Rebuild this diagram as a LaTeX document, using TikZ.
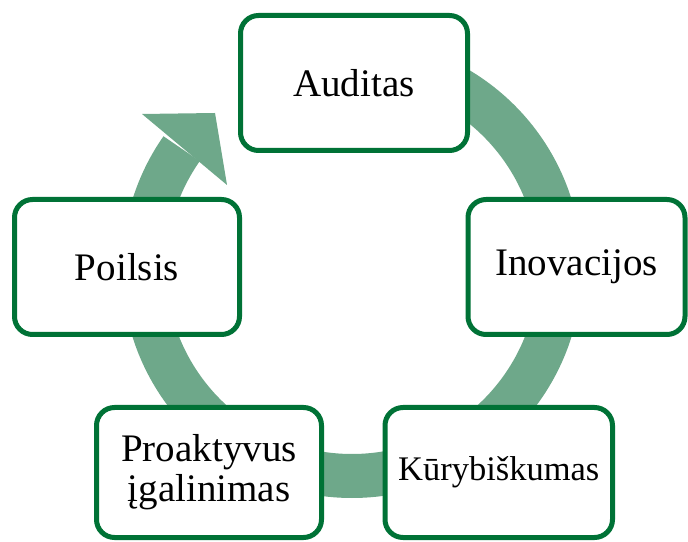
\documentclass[tikz,border=0pt]{standalone}
\usepackage{fontspec}
\setmainfont{Liberation Serif}
\definecolor{ringgreen}{RGB}{110,168,138}
\definecolor{boxgreen}{RGB}{0,114,54}
\begin{document}
\begin{tikzpicture}[x=1pt,y=1pt,
  cyclebox/.style={draw=boxgreen, line width=5pt, rounded corners=18pt, fill=white,
    align=center, inner sep=0pt, font=\fontsize{39}{40}\selectfont}]
\useasboundingbox (0,0) rectangle (688,541);
% ring
\coordinate (c) at (352,273);
\draw[ringgreen, line width=44pt] (c) ++(90:208) arc[start angle=90, end angle=-215, radius=208];
\coordinate (h1) at (142,427);
\coordinate (h2) at (227,356);
\coordinate (tip) at (215,428);
\fill[ringgreen] (h1) -- (tip) -- (h2) -- cycle;
% boxes
\node[cyclebox, minimum width=227pt, minimum height=135pt] (audit) at (354,458) {Auditas};
\node[cyclebox, minimum width=217pt, minimum height=135pt] (inov) at (576.5,274) {Inovacijos};
\node[cyclebox, minimum width=227.5pt, minimum height=130pt, font=\fontsize{34.5}{36}\selectfont] (kury) at (498.75,68.5) {Kūrybiškumas};
\node[cyclebox, minimum width=225pt, minimum height=130pt] (proak) at (209,68.5) {Proaktyvus\\įgalinimas};
\node[cyclebox, minimum width=225pt, minimum height=135pt] (poil) at (127,274) {Poilsis};
\end{tikzpicture}
\end{document}
